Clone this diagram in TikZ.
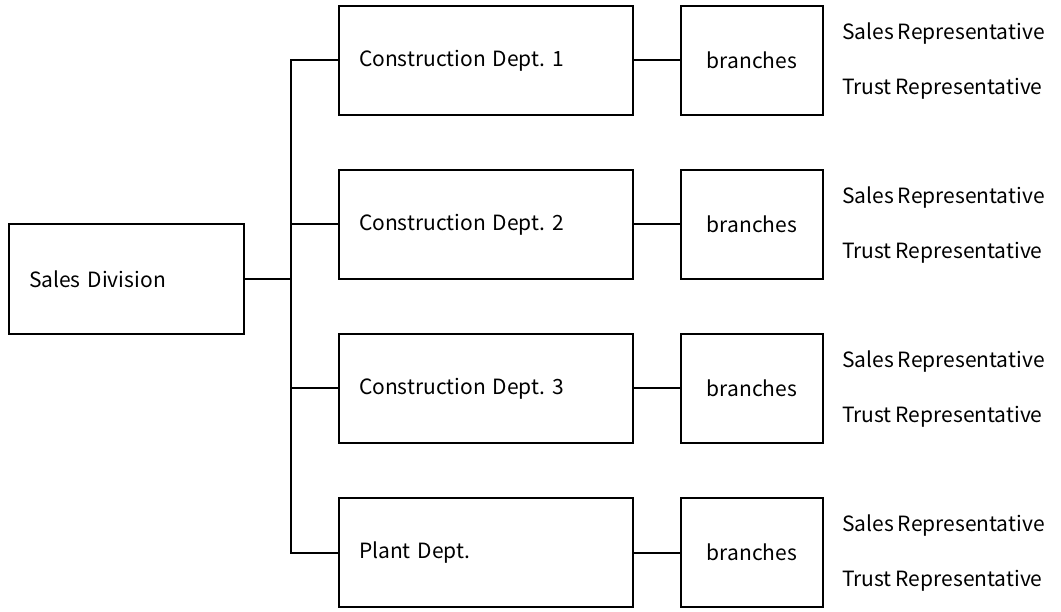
\documentclass[tikz,border=0pt]{standalone}
\usepackage{fontspec}
\setmainfont{Noto Sans CJK JP}[WordSpace=0.85]
\frenchspacing
\begin{document}
\begin{tikzpicture}[x=1pt,y=-1pt,
  every node/.style={font=\fontsize{21}{25}\selectfont},
  box/.style={draw,line width=2pt,rectangle,inner xsep=20pt,inner ysep=0pt,align=left},
  deptbox/.style={box,text width=254pt,minimum height=109pt},
  brbox/.style={box,text width=102pt,minimum height=109pt,align=center},
  rep/.style={anchor=west,inner sep=0pt},
  conn/.style={line width=2pt}]
\useasboundingbox (0,0) rectangle (1061,612);
\node[box,text width=195pt,minimum height=110pt] (sd) at (126.5,279) {Sales Division};
\node[deptbox] (d1) at (486,60.5) {Construction Dept. 1};
\node[deptbox] (d2) at (486,224.5) {Construction Dept. 2};
\node[deptbox] (d3) at (486,388.5) {Construction Dept. 3};
\node[deptbox] (d4) at (486,552.5) {Plant Dept.};
\node[brbox] (b1) at (752,60.5) {branches};
\node[brbox] (b2) at (752,224.5) {branches};
\node[brbox] (b3) at (752,388.5) {branches};
\node[brbox] (b4) at (752,552.5) {branches};
\coordinate (top) at (291,60.5);
\coordinate (bot) at (291,552.5);
\draw[conn] (d1.west) -- (top) -- (bot) -- (d4.west);
\draw[conn] (d2.west) -- (d2.west -| top);
\draw[conn] (d3.west) -- (d3.west -| top);
\draw[conn] (sd.east) -- (sd.east -| top);
\foreach \i in {1,2,3,4}{
  \draw[conn] (d\i.east) -- (b\i.west);
}
\node[rep] (s1) at (842,34) {Sales Representative};
\node[rep] (t1) at (842,89) {Trust Representative};
\node[rep] (s2) at (842,198) {Sales Representative};
\node[rep] (t2) at (842,253) {Trust Representative};
\node[rep] (s3) at (842,362) {Sales Representative};
\node[rep] (t3) at (842,417) {Trust Representative};
\node[rep] (s4) at (842,526) {Sales Representative};
\node[rep] (t4) at (842,581) {Trust Representative};
\end{tikzpicture}
\end{document}
